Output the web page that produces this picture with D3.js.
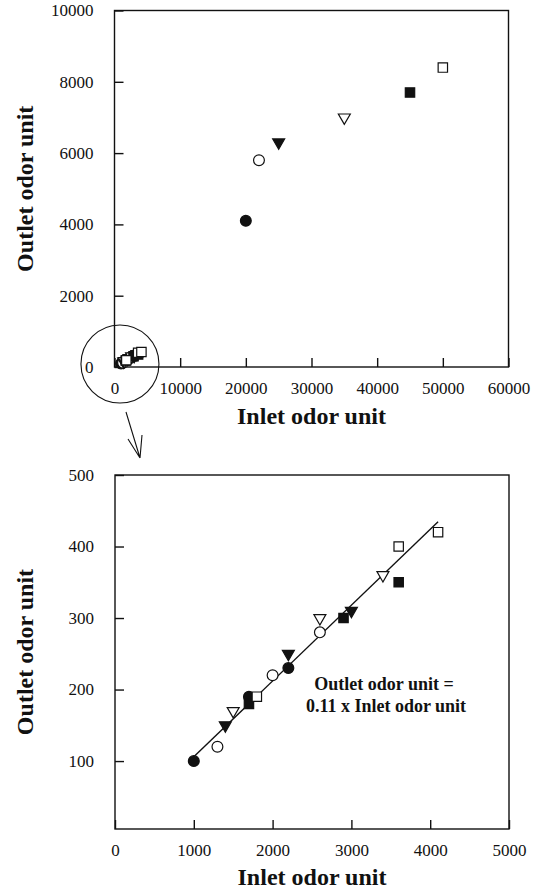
<!DOCTYPE html>
<html>
<head>
<meta charset="utf-8">
<script src="https://cdn.jsdelivr.net/npm/d3@7"></script>
<style>
  html, body { margin: 0; padding: 0; background: #fff; }
  svg { display: block; }
  text { font-family: "Liberation Serif", "Times New Roman", serif; fill: #111; }
</style>
</head>
<body>
<svg id="chart" width="542" height="893"></svg>
<script>
// Six runs, one symbol each; three low-load points plus one high-load point per run
const seriesNames = ["run A", "run B", "run C", "run D", "run E", "run F"];
const seriesShapes = ["circle", "circle", "triangle", "triangle", "square", "square"];
const seriesFilled = [true, false, true, false, true, false];

const inletLow = [
  [1000, 1700, 2200],
  [1300, 2000, 2600],
  [1400, 2200, 3000],
  [1500, 2600, 3400],
  [1700, 2900, 3600],
  [1800, 3600, 4100]
];
const outletLow = [
  [100, 190, 230],
  [120, 220, 280],
  [150, 250, 310],
  [170, 300, 360],
  [180, 300, 350],
  [190, 400, 420]
];
const inletHigh = [20000, 22000, 25000, 35000, 45000, 50000];
const outletHigh = [4100, 5800, 6300, 7000, 7700, 8400];

// Fitted line through the low-load data
const fitSlope = 0.106;
const fitRange = [1000, 4100];

// Axis ticks
const topXTicks = [0, 10000, 20000, 30000, 40000, 50000, 60000];
const topYTicks = [0, 2000, 4000, 6000, 8000, 10000];
const botXTicks = [0, 1000, 2000, 3000, 4000, 5000];
const botYTicks = [100, 200, 300, 400, 500];

const axisTitleX = "Inlet odor unit";
const axisTitleY = "Outlet odor unit";

const svg = d3.select("#chart");
const INK = "#111";

function buildPoints(includeHigh) {
  const pts = [];
  seriesNames.forEach((name, i) => {
    inletLow[i].forEach((x, j) => pts.push({ s: i, x, y: outletLow[i][j] }));
    if (includeHigh) pts.push({ s: i, x: inletHigh[i], y: outletHigh[i] });
  });
  return pts;
}

const symbolFor = {
  circle: d3.symbol().type(d3.symbolCircle).size(92),
  square: d3.symbol().type(d3.symbolSquare).size(88),
  triangle: d3.symbol().type(d3.symbolTriangle).size(62)
};

function drawPanel(cfg) {
  const { x, y, xTicks, yTicks, points, titleBaseline } = cfg;
  const g = svg.append("g");
  const [x0, x1] = x.range();
  const [y0, y1] = y.range();

  // frame
  g.append("rect")
    .attr("x", x0).attr("y", y1)
    .attr("width", x1 - x0).attr("height", y0 - y1)
    .attr("fill", "none").attr("stroke", INK).attr("stroke-width", 1.4);

  // axes with inward ticks
  const xAxis = d3.axisBottom(x).tickValues(xTicks).tickSizeInner(-9).tickSizeOuter(0)
    .tickPadding(15).tickFormat(d3.format("d"));
  const yAxis = d3.axisLeft(y).tickValues(yTicks).tickSizeInner(-9).tickSizeOuter(0)
    .tickPadding(21).tickFormat(d3.format("d"));

  const gx = g.append("g").attr("transform", `translate(0,${y0})`).call(xAxis);
  const gy = g.append("g").attr("transform", `translate(${x0},0)`).call(yAxis);
  [gx, gy].forEach(a => {
    a.select(".domain").remove();
    a.selectAll(".tick line").attr("stroke", INK).attr("stroke-width", 1.4);
    a.selectAll(".tick text").attr("font-size", 17)
      .attr("font-family", "Liberation Serif, Times New Roman, serif").attr("fill", INK);
  });

  // axis titles
  g.append("text")
    .attr("x", (x0 + x1) / 2).attr("y", titleBaseline)
    .attr("text-anchor", "middle").attr("font-size", 24).attr("font-weight", "bold")
    .text(axisTitleX);
  g.append("text")
    .attr("transform", `translate(33,${(y0 + y1) / 2}) rotate(-90)`)
    .attr("text-anchor", "middle").attr("font-size", 24).attr("font-weight", "bold")
    .text(axisTitleY);

  // markers
  g.append("g").selectAll("path").data(points).join("path")
    .attr("d", d => symbolFor[seriesShapes[d.s]]())
    .attr("transform", d => {
      const rot = seriesShapes[d.s] === "triangle" ? " rotate(180)" : "";
      return `translate(${x(d.x)},${y(d.y)})${rot}`;
    })
    .attr("fill", d => seriesFilled[d.s] ? INK : "#fff")
    .attr("stroke", INK).attr("stroke-width", 1.2);

  return g;
}

// ---------- upper panel: full range ----------
const xTop = d3.scaleLinear().domain([0, 60000]).range([114.5, 508.5]);
const yTop = d3.scaleLinear().domain([0, 10000]).range([367, 10.5]);
const topG = drawPanel({
  x: xTop, y: yTop, xTicks: topXTicks, yTicks: topYTicks,
  points: buildPoints(true), titleBaseline: 424
});

// circle marking the low-load cluster, with an arrow down to the detail panel
const cx = xTop(830), cy = yTop(85);
topG.append("circle").attr("cx", cx).attr("cy", cy).attr("r", 39)
  .attr("fill", "none").attr("stroke", INK).attr("stroke-width", 1.1);
const tip = [140, 458];
const arrowPath = d3.path();
arrowPath.moveTo(126, 412); arrowPath.lineTo(tip[0], tip[1]);
arrowPath.moveTo(128, 439); arrowPath.lineTo(tip[0], tip[1]);
arrowPath.moveTo(142, 435); arrowPath.lineTo(tip[0], tip[1]);
topG.append("path").attr("d", arrowPath.toString())
  .attr("fill", "none").attr("stroke", INK).attr("stroke-width", 1.1);

// ---------- lower panel: low-load detail ----------
const xBot = d3.scaleLinear().domain([0, 5000]).range([115, 509]);
const yBot = d3.scaleLinear().domain([5, 500]).range([829, 475]);
const botG = drawPanel({
  x: xBot, y: yBot, xTicks: botXTicks, yTicks: botYTicks,
  points: buildPoints(false), titleBaseline: 885
});

// fitted line
const fitLine = d3.line().x(d => xBot(d)).y(d => yBot(fitSlope * d));
botG.insert("path", "g")
  .attr("d", fitLine(fitRange))
  .attr("fill", "none").attr("stroke", INK).attr("stroke-width", 1.4);

// equation label
const eq = botG.append("text").attr("text-anchor", "middle")
  .attr("font-size", 18).attr("font-weight", "bold");
eq.append("tspan").attr("x", 384).attr("y", 690).text(`${axisTitleY} =`);
eq.append("tspan").attr("x", 386).attr("y", 712)
  .text(`${d3.format(".2f")(fitSlope)} x ${axisTitleX}`);
</script>
</body>
</html>
